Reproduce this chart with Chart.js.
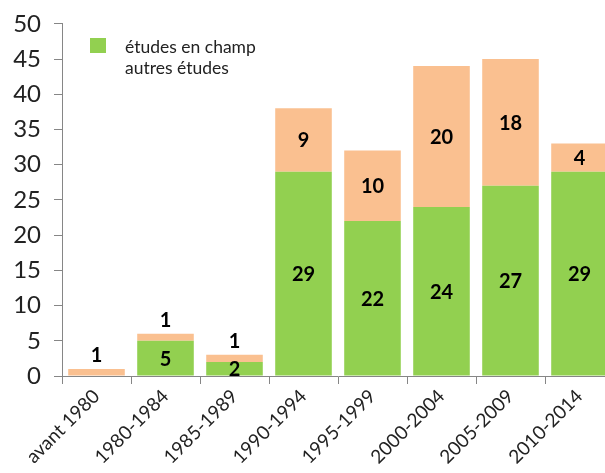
<!DOCTYPE html>
<html lang="fr">
<head>
<meta charset="UTF-8" />
<title>Études par période</title>
<script src="https://cdn.jsdelivr.net/npm/chart.js@4.4.0/dist/chart.umd.min.js"></script>
<style>
  html, body { margin: 0; padding: 0; overflow: hidden; background: #fff; }
  #wrap { width: 614px; height: 473px; position: relative; }
</style>
</head>
<body>
<div id="wrap"><canvas id="chart"></canvas></div>
<script>
// values
const periods = ['avant 1980', '1980-1984', '1985-1989', '1990-1994', '1995-1999', '2000-2004', '2005-2009', '2010-2014'];
const enChamp = [0, 5, 2, 29, 22, 24, 27, 29];
const autres = [1, 1, 1, 9, 10, 20, 18, 4];
const seriesNames = ['études en champ', 'autres études'];

const GREEN = '#92d050';
const PEACH = '#fac090';
const AXIS = '#868686';
const FONT = 'Lato, "Open Sans", sans-serif';

// value labels: centered in segment, above the stack when the segment is too thin
const valueLabels = {
  id: 'valueLabels',
  afterDatasetsDraw(chart) {
    const ctx = chart.ctx;
    ctx.save();
    ctx.font = 'bold 20px ' + FONT;
    ctx.fillStyle = '#000';
    ctx.textAlign = 'center';
    ctx.textBaseline = 'middle';
    chart.data.datasets.forEach((ds, di) => {
      const meta = chart.getDatasetMeta(di);
      meta.data.forEach((bar, i) => {
        const v = ds.data[i];
        if (!v) return;
        const h = Math.abs(bar.base - bar.y);
        let y = (bar.y + bar.base) / 2;
        if (h < 10) y = bar.y - 14;
        ctx.fillText(String(v), bar.x, y + 1);
      });
    });
    ctx.restore();
  }
};

// legend inside the plot, top left (second entry has no swatch in the original)
const insideLegend = {
  id: 'insideLegend',
  afterDraw(chart) {
    const ctx = chart.ctx;
    ctx.save();
    ctx.fillStyle = GREEN;
    ctx.fillRect(90, 38, 16, 15);
    ctx.fillStyle = '#222';
    ctx.font = '17.5px ' + FONT;
    ctx.textBaseline = 'middle';
    ctx.textAlign = 'left';
    ctx.fillText(seriesNames[0], 125, 47);
    ctx.fillText(seriesNames[1], 125, 68);
    ctx.restore();
  }
};

new Chart(document.getElementById('chart'), {
  type: 'bar',
  data: {
    labels: periods,
    datasets: [
      { label: seriesNames[0], data: enChamp, backgroundColor: GREEN, borderWidth: 0 },
      { label: seriesNames[1], data: autres, backgroundColor: PEACH, borderWidth: 0 }
    ]
  },
  options: {
    responsive: true,
    maintainAspectRatio: false,
    animation: false,
    layout: { padding: { top: 22, left: 0, right: 0, bottom: 0 } },
    datasets: { bar: { categoryPercentage: 1, barPercentage: 0.82 } },
    plugins: { legend: { display: false }, tooltip: { enabled: false } },
    scales: {
      x: {
        stacked: true,
        grid: { display: true, drawOnChartArea: false, tickLength: 8, color: AXIS, offset: true },
        border: { color: AXIS, width: 1 },
        ticks: { color: '#222', font: { family: FONT, size: 19 }, minRotation: 45, maxRotation: 45, padding: 1 },
        afterFit(scale) { scale.height = 97; }
      },
      y: {
        stacked: true,
        min: 0,
        max: 50,
        grid: { display: true, drawOnChartArea: false, tickLength: 8, color: AXIS },
        border: { color: AXIS, width: 1 },
        ticks: { stepSize: 5, color: '#222', font: { family: FONT, size: 24, lineHeight: 0.9 }, padding: 13 },
        afterFit(scale) { scale.width = 62; }
      }
    }
  },
  plugins: [valueLabels, insideLegend]
});
</script>
</body>
</html>
